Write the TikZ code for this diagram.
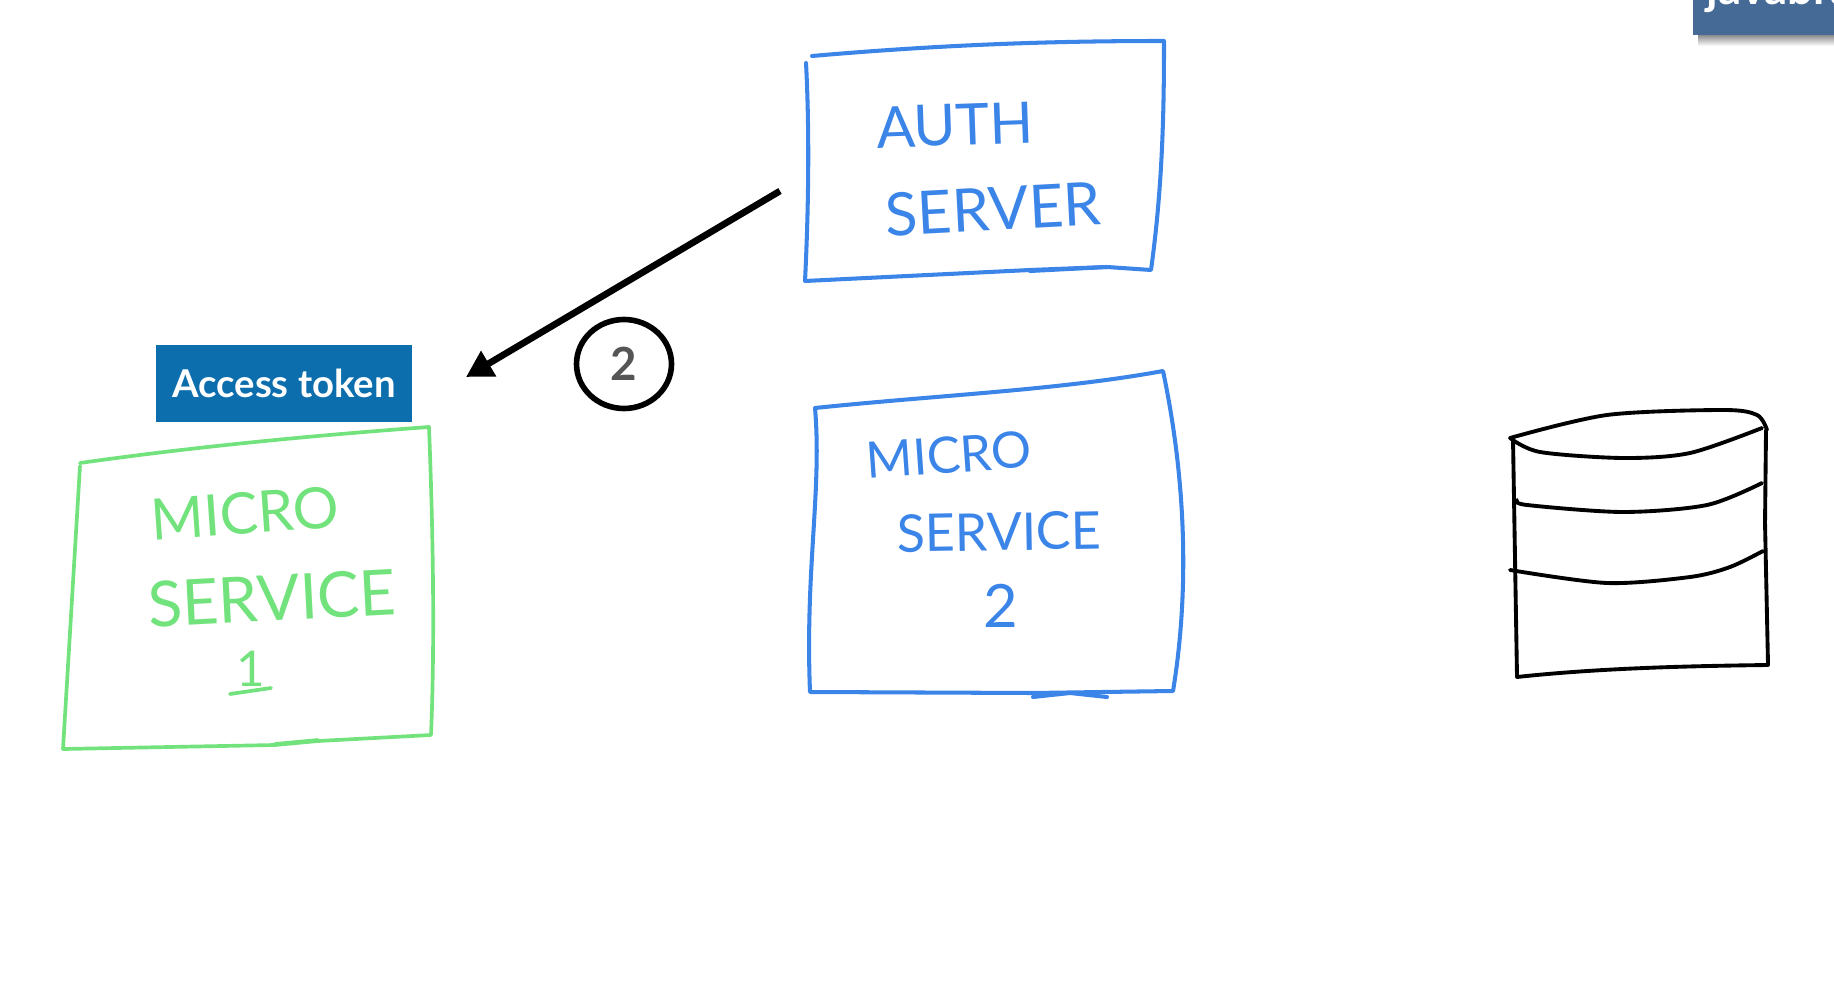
\documentclass[tikz,border=0pt]{standalone}
\usepackage{fontspec}
\setmainfont{Lato}
\usetikzlibrary{arrows.meta, positioning, shapes.geometric}
\definecolor{SketchBlue}{HTML}{3B84E8}
\definecolor{SketchGreen}{HTML}{72E27C}
\definecolor{TokenBlue}{HTML}{0C6EAD}
\definecolor{BadgeBlue}{HTML}{466A96}
\definecolor{StepGray}{HTML}{555555}
\tikzset{
  bluebox/.style={color=SketchBlue, line width=1.15pt, line join=round, line cap=round},
  greenbox/.style={color=SketchGreen, line width=1.05pt, line join=round, line cap=round},
  inkline/.style={color=black, line width=1.1pt, line join=round, line cap=round},
  bluetext/.style={text=SketchBlue, inner sep=0pt},
  greentext/.style={text=SketchGreen, inner sep=0pt}
}
\begin{document}
\begin{tikzpicture}[x=1cm, y=-1cm]
    \useasboundingbox (0,0) rectangle (18.34,9.82);

    \shade[top color=gray!90, bottom color=white] (16.98,0.35) rectangle (18.34,0.46);
    \fill[BadgeBlue] (16.93,0) rectangle (18.34,0.35);
    \begin{scope}
        \clip (16.93,0) rectangle (18.34,0.35);
        \node[text=white, font=\fontsize{13}{16}\selectfont\bfseries, anchor=base west, inner sep=0pt] (badgetext) at (17.06,0.05) {javabrains};
    \end{scope}

    \draw[bluebox] (8.06,0.63) .. controls (8.10,1.40) and (8.08,2.20) .. (8.05,2.81) -- (10.30,2.70) -- (11.07,2.67) -- (11.51,2.70) .. controls (11.62,1.90) and (11.64,1.20) .. (11.64,0.41) .. controls (10.60,0.41) and (9.50,0.44) .. (8.12,0.56);
    \draw[bluebox] (10.30,2.71) -- (11.07,2.67);
    \node[bluetext, rotate=2, font=\fontsize{16.3}{20}\selectfont] (authword) at (9.55,1.25) {AUTH};
    \node[bluetext, rotate=3, font=\fontsize{17}{20}\selectfont] (serverword) at (9.93,2.09) {SERVER};

    \draw[greenbox] (0.80,4.66) -- (0.63,7.49) -- (2.75,7.45) -- (3.18,7.41) -- (4.31,7.35) .. controls (4.35,6.40) and (4.33,5.30) .. (4.29,4.27) .. controls (3.20,4.35) and (2.00,4.46) .. (0.80,4.63);
    \draw[greenbox] (2.75,7.44) -- (3.18,7.40);
    \node[greentext, rotate=4, font=\fontsize{16.3}{20}\selectfont] (microone) at (2.45,5.13) {MICRO};
    \node[greentext, rotate=3, font=\fontsize{18}{20}\selectfont] (serviceone) at (2.72,5.98) {SERVICE};
    \node[greentext, font=\fontsize{14}{16}\selectfont] (numone) at (2.51,6.69) {1};
    \draw[greenbox] (2.30,6.94) -- (2.71,6.88);

    \node[fill=TokenBlue, text=white, minimum width=2.56cm, minimum height=0.77cm, inner sep=0pt, font=\fontsize{10.9}{12}\selectfont\bfseries] (tokenbox) at (2.84,3.835) {Access token};

    \coordinate (arrowstart) at (7.80,1.91);
    \coordinate (arrowend) at (4.66,3.77);
    \draw[-{Triangle[length=7.5pt, width=8pt]}, line width=1.9pt] (arrowstart) -- (arrowend);
    \node[draw, ellipse, line width=1.6pt, minimum width=0.95cm, minimum height=0.89cm, inner sep=0pt, text=StepGray, font=\fontsize{13}{15}\selectfont\bfseries] (stepmark) at (6.24,3.64) {2};

    \draw[bluebox] (8.15,4.08) .. controls (8.22,4.90) and (8.05,5.70) .. (8.10,6.92) -- (10.33,6.93) -- (11.73,6.91) .. controls (11.88,6.00) and (11.88,4.90) .. (11.63,3.71) .. controls (10.60,3.90) and (9.40,3.95) .. (8.15,4.08);
    \draw[bluebox] (10.33,6.97) -- (10.70,6.93) -- (11.07,6.97);
    \node[bluetext, rotate=4, font=\fontsize{14.3}{20}\selectfont] (microtwo) at (9.49,4.55) {MICRO};
    \node[bluetext, rotate=1, font=\fontsize{14.8}{20}\selectfont] (servicetwo) at (9.99,5.32) {SERVICE};
    \node[bluetext, font=\fontsize{17}{20}\selectfont] (numtwo) at (10.01,6.06) {2};

    \draw[inkline] (15.13,4.40) -- (15.17,6.77) .. controls (16.00,6.68) and (16.90,6.66) .. (17.68,6.65) -- (17.65,5.23) -- (17.66,4.30);
    \draw[inkline] plot[smooth] coordinates {(15.10,4.38) (16.07,4.15) (17.23,4.10) (17.57,4.15) (17.67,4.30)};
    \draw[inkline] plot[smooth] coordinates {(15.10,4.38) (15.40,4.52) (16.23,4.58) (16.90,4.53) (17.62,4.28)};
    \draw[inkline] plot[smooth] coordinates {(15.17,5.00) (15.27,5.05) (16.23,5.12) (17.07,5.05) (17.62,4.83)};
    \draw[inkline] plot[smooth] coordinates {(15.10,5.70) (16.07,5.83) (16.90,5.77) (17.30,5.67) (17.63,5.51)};
\end{tikzpicture}
\end{document}
